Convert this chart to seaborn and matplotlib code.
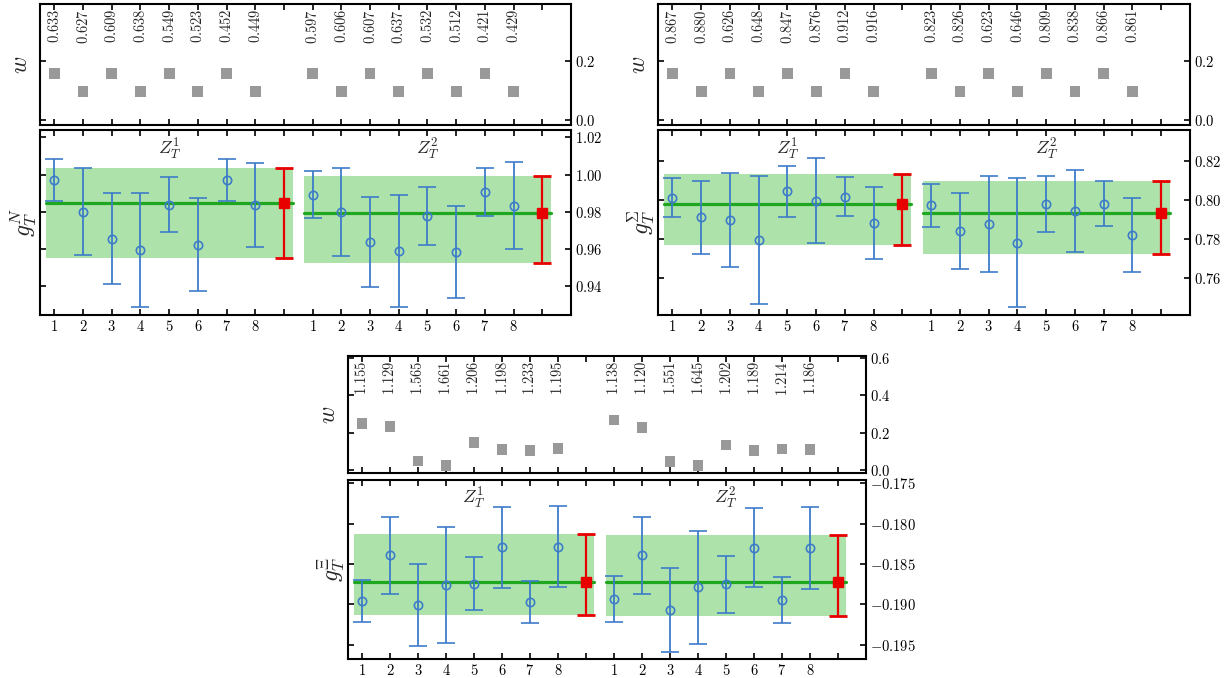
import numpy as np
import matplotlib

matplotlib.use("Agg")
import matplotlib.pyplot as plt
import matplotlib.ticker as mticker
import matplotlib.transforms as mtransforms
import seaborn as sns

# ---- data ----
x_labels = ["1", "2", "3", "4", "5", "6", "7", "8", ""]

N_z1_val = [0.9972, 0.9800, 0.9656, 0.9595, 0.9839, 0.9624, 0.9972, 0.9837]
N_z1_err = [0.0113, 0.0234, 0.0246, 0.0308, 0.0149, 0.0250, 0.0113, 0.0228]
N_z2_val = [0.9893, 0.9798, 0.9636, 0.9589, 0.9777, 0.9585, 0.9907, 0.9832]
N_z2_err = [0.0127, 0.0236, 0.0243, 0.0302, 0.0157, 0.0247, 0.0129, 0.0234]
N_fit = [0.9848, 0.9795]
N_fit_hi = [1.0037, 0.9990]
N_fit_lo = [0.9554, 0.9527]
N_w1 = [0.158, 0.096, 0.158, 0.096, 0.158, 0.096, 0.158, 0.096]
N_w2 = [0.158, 0.096, 0.158, 0.096, 0.158, 0.096, 0.158, 0.096]
N_q1 = ["0.633", "0.627", "0.609", "0.638", "0.549", "0.523", "0.452", "0.449"]
N_q2 = ["0.597", "0.606", "0.607", "0.637", "0.532", "0.512", "0.421", "0.429"]

S_z1_val = [0.8012, 0.7912, 0.7898, 0.7796, 0.8044, 0.7997, 0.8017, 0.7881]
S_z1_err = [0.0101, 0.0187, 0.0242, 0.0328, 0.0129, 0.0216, 0.0100, 0.0183]
S_z2_val = [0.7973, 0.7842, 0.7876, 0.7781, 0.7980, 0.7946, 0.7980, 0.7821]
S_z2_err = [0.0110, 0.0192, 0.0246, 0.0329, 0.0144, 0.0209, 0.0115, 0.0188]
S_fit = [0.7981, 0.7932]
S_fit_hi = [0.8134, 0.8097]
S_fit_lo = [0.7769, 0.7723]
S_w1 = [0.158, 0.096, 0.158, 0.096, 0.158, 0.096, 0.158, 0.096]
S_w2 = [0.158, 0.096, 0.158, 0.096, 0.158, 0.096, 0.158, 0.096]
S_q1 = ["0.867", "0.880", "0.626", "0.648", "0.847", "0.876", "0.912", "0.916"]
S_q2 = ["0.823", "0.826", "0.623", "0.646", "0.809", "0.838", "0.866", "0.861"]

X_z1_val = [-0.18954, -0.18392, -0.19011, -0.18760, -0.18744, -0.18293, -0.18966, -0.18286]
X_z1_err = [0.0026, 0.0048, 0.0051, 0.0072, 0.0033, 0.0050, 0.0026, 0.0050]
X_z2_val = [-0.18933, -0.18392, -0.19065, -0.18789, -0.18751, -0.18298, -0.18946, -0.18302]
X_z2_err = [0.0028, 0.0048, 0.0052, 0.0070, 0.0035, 0.0049, 0.0028, 0.0051]
X_fit = [-0.18723, -0.18723]
X_fit_hi = [-0.18129, -0.18137]
X_fit_lo = [-0.19130, -0.19140]
X_w1 = [0.247, 0.232, 0.048, 0.023, 0.146, 0.109, 0.104, 0.114]
X_w2 = [0.268, 0.227, 0.045, 0.023, 0.134, 0.105, 0.113, 0.111]
X_q1 = ["1.155", "1.129", "1.565", "1.661", "1.206", "1.198", "1.233", "1.195"]
X_q2 = ["1.138", "1.120", "1.551", "1.645", "1.202", "1.189", "1.214", "1.186"]

BLUE = "#3d7cc9"
RED = "#e80000"
GREEN = "#1fa81f"
BAND = "#aee2ab"
GRAY = "#999999"

sns.set_theme(style="ticks")
plt.rcParams["mathtext.fontset"] = "cm"
plt.rcParams["font.family"] = ["DejaVu Serif"]


def math_fmt(ndig):
    return mticker.FuncFormatter(lambda v, pos: "$" + f"{v:.{ndig}f}" + "$")


def style_axis(ax, lw=1.5):
    for sp in ax.spines.values():
        sp.set_linewidth(lw)
        sp.set_color("black")
    ax.tick_params(direction="in", top=True, bottom=True, left=True, right=True,
                   labelleft=False, labelright=True, length=4.5, width=1.2,
                   labelsize=10.5, pad=3, colors="black")


def draw_group(ax_w, ax_g, zs, ws, qs, fits, ylabel, ylim, ystep, ydig, wlim, wstep):
    x1 = np.arange(1, 9)
    x2 = np.arange(10, 18)
    blocks = [(x1, 9), (x2, 18)]

    # weights panel
    trans_w = mtransforms.blended_transform_factory(ax_w.transData, ax_w.transAxes)
    for (xs, _), w, q in zip(blocks, ws, qs):
        sns.scatterplot(x=xs, y=w, ax=ax_w, marker="s", s=60, color=GRAY,
                        edgecolor="none", legend=False)
        for xi, t in zip(xs, q):
            ax_w.text(xi, 0.96, "$" + t + "$", transform=trans_w, rotation=90,
                      ha="center", va="top", fontsize=10.5)
    ax_w.set_xlim(0.5, 19.0)
    ax_w.set_ylim(*wlim)
    ax_w.set_xticks(np.arange(1, 19))
    ax_w.set_xticklabels([])
    ax_w.yaxis.set_major_locator(mticker.MultipleLocator(wstep))
    ax_w.yaxis.set_major_formatter(math_fmt(1))
    ax_w.set_ylabel("$w$", fontsize=17, labelpad=6)
    ax_w.set_xlabel("")
    style_axis(ax_w)

    # values panel
    trans_g = mtransforms.blended_transform_factory(ax_g.transData, ax_g.transAxes)
    for k, ((xs, xr), (val, err)) in enumerate(zip(blocks, zs)):
        c, hi, lo = fits[0][k], fits[1][k], fits[2][k]
        ax_g.fill_between([xs[0] - 0.3, xr + 0.3], lo, hi, color=BAND, lw=0, zorder=1)
        ax_g.plot([xs[0] - 0.3, xr + 0.3], [c, c], color=GREEN, lw=2.3, zorder=2)
        ax_g.errorbar(xs, val, yerr=err, fmt="o", ms=6, mfc="none", mec=BLUE,
                      mew=1.2, color=BLUE, elinewidth=1.3, capsize=6.5,
                      capthick=1.3, zorder=3)
        ax_g.errorbar([xr], [c], yerr=[[c - lo], [hi - c]], fmt="s", ms=6.5,
                      color=RED, elinewidth=1.6, capsize=6.5, capthick=2.0, zorder=4)
        ax_g.text((xs[0] + xr) / 2, 0.965, f"$Z_T^{k + 1}$", transform=trans_g,
                  ha="center", va="top", fontsize=13)
    ax_g.set_xlim(0.5, 19.0)
    ax_g.set_ylim(*ylim)
    ax_g.set_xticks(np.arange(1, 19))
    ax_g.set_xticklabels(["$" + s + "$" if s else "" for s in x_labels * 2])
    ax_g.yaxis.set_major_locator(mticker.MultipleLocator(ystep))
    ax_g.yaxis.set_major_formatter(math_fmt(ydig))
    ax_g.set_ylabel(ylabel, fontsize=17, labelpad=1)
    style_axis(ax_g)


fig = plt.figure(figsize=(12.29, 6.78), dpi=100)

W, H = 1229.0, 678.0


def px_axes(left, right, top, bottom):
    return fig.add_axes([left / W, 1 - bottom / H, (right - left) / W, (bottom - top) / H])


axN_w = px_axes(40, 571, 4, 125)
axN_g = px_axes(40, 571, 130, 315)
axS_w = px_axes(658, 1190, 4, 125)
axS_g = px_axes(658, 1190, 130, 315)
axX_w = px_axes(348, 866, 356, 473)
axX_g = px_axes(348, 866, 480, 659)

draw_group(axN_w, axN_g, [(N_z1_val, N_z1_err), (N_z2_val, N_z2_err)],
           [N_w1, N_w2], [N_q1, N_q2], [N_fit, N_fit_hi, N_fit_lo],
           "$g_T^N$", (0.9245, 1.024), 0.02, 2, (-0.017, 0.395), 0.2)
draw_group(axS_w, axS_g, [(S_z1_val, S_z1_err), (S_z2_val, S_z2_err)],
           [S_w1, S_w2], [S_q1, S_q2], [S_fit, S_fit_hi, S_fit_lo],
           r"$g_T^\Sigma$", (0.7413, 0.8357), 0.02, 2, (-0.017, 0.395), 0.2)
draw_group(axX_w, axX_g, [(X_z1_val, X_z1_err), (X_z2_val, X_z2_err)],
           [X_w1, X_w2], [X_q1, X_q2], [X_fit, X_fit_hi, X_fit_lo],
           r"$g_T^\Xi$", (-0.19676, -0.1746), 0.005, 3, (-0.016, 0.61), 0.2)

fig.savefig("out.png", dpi=100)
